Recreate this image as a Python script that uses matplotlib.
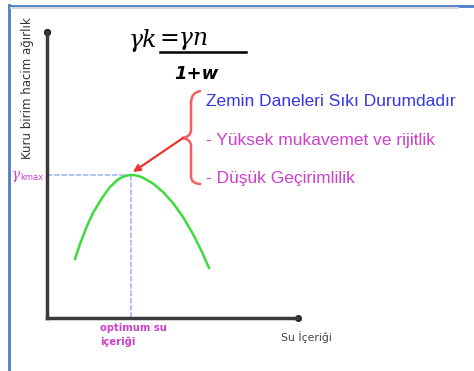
import matplotlib.pyplot as plt
from matplotlib.path import Path
from matplotlib.patches import PathPatch

# compaction curve (water content, dry unit weight)
su_icerigi = [2.8, 3.3, 4.0, 4.6, 5.5, 6.3, 7.1, 7.55, 8.0, 8.4, 8.8, 9.2, 9.6, 10.6, 11.6, 12.6, 13.6, 14.6, 15.5, 16.2]
kuru_birim = [5.9, 7.4, 9.2, 10.5, 12.0, 13.1, 13.85, 14.1, 14.25, 14.3, 14.28, 14.18, 14.02, 13.45, 12.6, 11.5, 10.1, 8.4, 6.6, 5.0]
w_opt = 8.4
g_kmax = 14.3

ozellikler = ["Zemin Daneleri Sıkı Durumdadır",
              "- Yüksek mukavemet ve rijitlik",
              "- Düşük Geçirimlilik"]
ozellik_renk = ["#3535e8", "#cc40cc", "#cc40cc"]

W, H = 474, 371
fig = plt.figure(figsize=(W / 100, H / 100), dpi=100)

# overlay in pixel coordinates for frame, brace and labels
bg = fig.add_axes([0, 0, 1, 1])
bg.set_xlim(0, W)
bg.set_ylim(H, 0)
bg.axis("off")

bg.plot([9.5, W], [5.5, 5.5], color="#4a7fc8", lw=2)
bg.plot([9.5, 9.5], [5, H], color="#4a7fc8", lw=2)
bg.plot([11, 458], [8, 8], color="#d8d8d8", lw=1.5)

# brace
verts = [(201, 91), (191, 92), (191, 103), (191, 130),
         (191, 137), (182, 138), (191, 139), (191, 146),
         (191, 176), (191, 184), (201, 184)]
codes = [Path.MOVETO, Path.CURVE3, Path.CURVE3, Path.LINETO,
         Path.CURVE3, Path.CURVE3, Path.CURVE3, Path.CURVE3,
         Path.LINETO, Path.CURVE3, Path.CURVE3]
bg.add_patch(PathPatch(Path(verts, codes), fill=False, ec="#f06060", lw=1.8))

for i, (t, c) in enumerate(zip(ozellikler, ozellik_renk)):
    bg.text(206, 101 + i * 39, t, color=c, fontsize=12.5,
            family="Liberation Sans", va="center", ha="left")

# formula
bg.text(129, 41, "γk", fontsize=17, style="italic", family="DejaVu Serif",
        va="center", ha="left")
bg.text(160, 39, "=γn", fontsize=17, style="italic", family="DejaVu Serif",
        va="center", ha="left")
bg.plot([160, 246], [52, 52], color="black", lw=1.8)
bg.text(174, 74, "1+w", fontsize=13, style="italic", weight="bold",
        family="DejaVu Sans", va="center", ha="left")

bg.text(28, 88, "Kuru birim hacim ağırlık", rotation=90, fontsize=8.5,
        color="#333333", va="center", ha="center", family="DejaVu Sans")
bg.text(12, 175, "γ", fontsize=10, color="#cc40cc", style="italic",
        family="DejaVu Serif", va="center", ha="left")
bg.text(20, 178, "kmax", fontsize=6, color="#cc40cc",
        va="center", ha="left")
bg.text(100, 335, "optimum su\niçeriği", fontsize=7.2, weight="bold",
        color="#cc40cc", va="center", ha="left", linespacing=1.4)
bg.text(281, 337, "Su İçeriği", fontsize=7.8, color="#444444",
        va="center", ha="left")

# main axes: origin at (47, 318) px, 10 px per unit
ax = fig.add_axes([47 / W, (H - 318) / H, 251 / W, 286 / H])
ax.patch.set_alpha(0)
ax.set_xlim(0, 25.1)
ax.set_ylim(0, 28.6)
for s in ["top", "right"]:
    ax.spines[s].set_visible(False)
for s in ["left", "bottom"]:
    ax.spines[s].set_color("#3a3a3a")
    ax.spines[s].set_linewidth(2.5)
ax.set_xticks([])
ax.set_yticks([])
ax.plot([0, 0], [28.6, 28.6], "o", color="#222222", ms=4, clip_on=False)
ax.plot([25.1], [0], "o", color="#222222", ms=4, clip_on=False)

ax.plot([0, w_opt], [g_kmax, g_kmax], color="#a8bdf2", lw=1.3, ls=(0, (3, 1)))
ax.plot([w_opt, w_opt], [g_kmax, 0], color="#a8bdf2", lw=1.3, ls=(0, (3, 1)))
ax.plot(su_icerigi, kuru_birim, color="#3ddc3d", lw=1.8)

ax.annotate("", xy=(w_opt + 0.2, g_kmax + 0.3), xytext=(13.6, 18.0),
            arrowprops=dict(arrowstyle="-|>", color="#ee3333", lw=1.6,
                            mutation_scale=10, shrinkA=0, shrinkB=0))

fig.savefig("out.png", dpi=100)
